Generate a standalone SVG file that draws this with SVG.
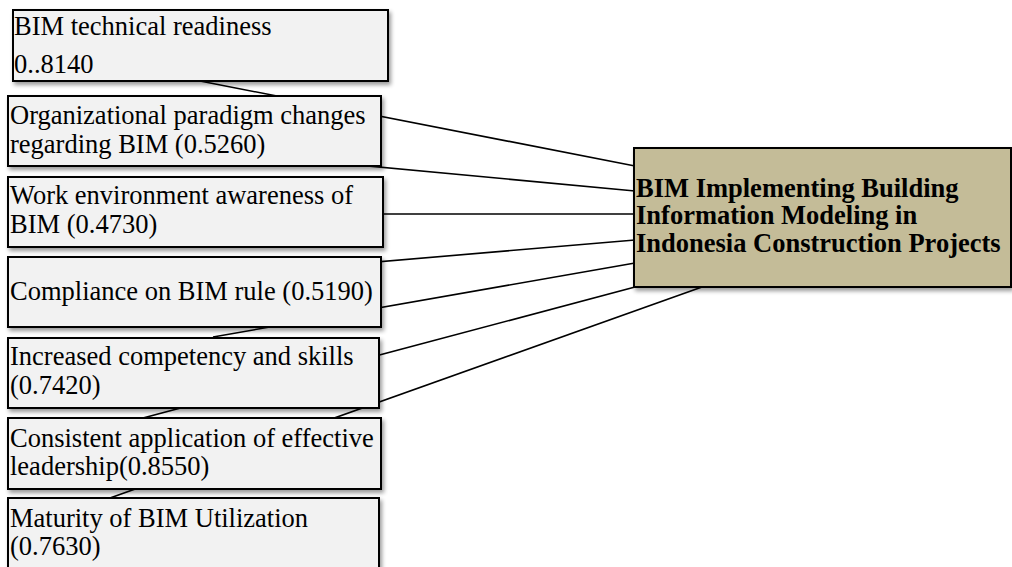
<svg xmlns="http://www.w3.org/2000/svg" width="1012" height="567" viewBox="0 0 1012 567">
  <defs>
    <filter id="shadow" x="-5%" y="-10%" width="115%" height="130%">
      <feGaussianBlur in="SourceAlpha" stdDeviation="2"/>
      <feOffset dx="2" dy="3" result="off"/>
      <feComponentTransfer><feFuncA type="linear" slope="0.4"/></feComponentTransfer>
      <feMerge><feMergeNode/><feMergeNode in="SourceGraphic"/></feMerge>
    </filter>
    <style>
      .factor { fill: #F2F2F2; stroke: #000; stroke-width: 2; filter: url(#shadow); }
      .goal { fill: #C4BC98; stroke: #000; stroke-width: 2; filter: url(#shadow); }
      .label { font-family: "Liberation Serif", "Times New Roman", serif; font-size: 26.5px; fill: #000; }
      .goal-label { font-family: "Liberation Serif", "Times New Roman", serif; font-size: 26.5px; font-weight: bold; fill: #000; }
      .link { stroke: #000; stroke-width: 1.6; fill: none; }
    </style>
  </defs>
  <rect width="1012" height="567" fill="#fff"/>

  <!-- links from each factor to the goal box (drawn beneath the boxes) -->
  <g id="connectors">
    <line class="link" x1="200" y1="81" x2="635" y2="166"/>
    <line class="link" x1="250" y1="155" x2="635" y2="191"/>
    <line class="link" x1="195" y1="214" x2="635" y2="214"/>
    <line class="link" x1="200" y1="277" x2="635" y2="240"/>
    <line class="link" x1="213" y1="337" x2="635" y2="263"/>
    <line class="link" x1="143" y1="418" x2="635" y2="287"/>
    <line class="link" x1="110" y1="498" x2="702" y2="287"/>
  </g>

  <g id="technical-readiness">
    <rect class="factor" x="13" y="10" width="375" height="71"/>
    <text class="label" x="14" y="35">BIM technical readiness</text>
    <text class="label" x="14" y="73">0..8140</text>
  </g>

  <g id="paradigm-changes">
    <rect class="factor" x="8" y="96" width="373" height="70"/>
    <text class="label" x="10" y="124">Organizational paradigm changes</text>
    <text class="label" x="10" y="153">regarding BIM (0.5260)</text>
  </g>

  <g id="environment-awareness">
    <rect class="factor" x="8" y="177" width="375" height="70"/>
    <text class="label" x="10" y="204">Work environment awareness of</text>
    <text class="label" x="10" y="233">BIM (0.4730)</text>
  </g>

  <g id="rule-compliance">
    <rect class="factor" x="8" y="257" width="373" height="70"/>
    <text class="label" x="10" y="300">Compliance on BIM rule (0.5190)</text>
  </g>

  <g id="competency-skills">
    <rect class="factor" x="8" y="338" width="371" height="70"/>
    <text class="label" x="10" y="365">Increased competency and skills</text>
    <text class="label" x="10" y="394">(0.7420)</text>
  </g>

  <g id="effective-leadership">
    <rect class="factor" x="8" y="418" width="373" height="71"/>
    <text class="label" x="10" y="447">Consistent application of effective</text>
    <text class="label" x="10" y="475">leadership(0.8550)</text>
  </g>

  <g id="bim-maturity">
    <rect class="factor" x="8" y="498" width="371" height="82"/>
    <text class="label" x="10" y="527">Maturity of BIM Utilization</text>
    <text class="label" x="10" y="555">(0.7630)</text>
  </g>

  <g id="bim-implementation">
    <rect class="goal" x="634" y="148" width="377" height="139"/>
    <text class="goal-label" x="636" y="197">BIM Implementing Building</text>
    <text class="goal-label" x="636" y="224">Information Modeling in</text>
    <text class="goal-label" x="636" y="252">Indonesia Construction Projects</text>
  </g>
</svg>
